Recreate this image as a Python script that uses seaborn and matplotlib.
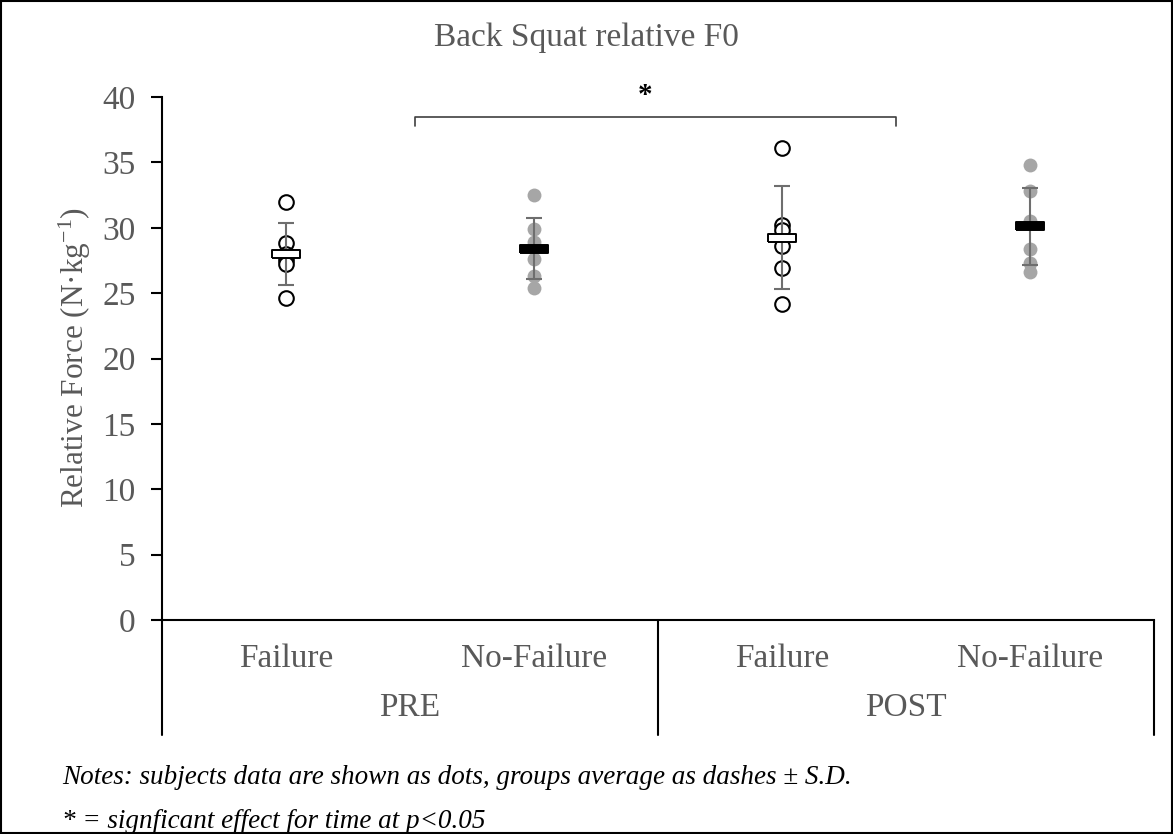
import matplotlib
matplotlib.use("Agg")
import matplotlib.pyplot as plt
import matplotlib.transforms as mtransforms
from matplotlib.patches import Rectangle
import numpy as np
import pandas as pd
import seaborn as sns

# ---- data -------------------------------------------------------------
categories = ["PRE Failure", "PRE No-Failure", "POST Failure", "POST No-Failure"]
cat_labels = ["Failure", "No-Failure", "Failure", "No-Failure"]
groups = ["PRE", "POST"]

pre_failure = [32.0, 28.8, 28.0, 27.5, 27.2, 24.6]
pre_nofailure = [32.5, 29.9, 28.9, 27.6, 26.3, 25.4]
post_failure = [36.1, 30.2, 29.8, 28.6, 26.9, 24.2]
post_nofailure = [34.8, 32.8, 30.5, 28.4, 27.3, 26.6]

group_means = [28.0, 28.4, 29.25, 30.1]
group_sd = [2.4, 2.35, 3.95, 2.95]

y_ticks = [0, 5, 10, 15, 20, 25, 30, 35, 40]

# ---- style ------------------------------------------------------------
sns.set_style("white")
plt.rcParams["font.family"] = ["Liberation Serif", "DejaVu Serif"]
plt.rcParams["mathtext.fontset"] = "custom"
plt.rcParams["mathtext.rm"] = "Liberation Serif"
plt.rcParams["mathtext.it"] = "Liberation Serif:italic"
TXT = "#595959"

fig = plt.figure(figsize=(11.73, 8.34), dpi=100)
W, H = 1173, 834
ax = fig.add_axes([162 / W, (H - 620) / H, (1154 - 162) / W, (620 - 97) / H])

df = pd.DataFrame({
    "cond": (["PRE Failure"] * len(pre_failure) + ["PRE No-Failure"] * len(pre_nofailure)
             + ["POST Failure"] * len(post_failure) + ["POST No-Failure"] * len(post_nofailure)),
    "force": pre_failure + pre_nofailure + post_failure + post_nofailure,
})
is_fail = df["cond"].str.endswith(" Failure") & ~df["cond"].str.contains("No-")

# subjects: open circles for Failure, grey dots for No-Failure
sns.stripplot(data=df[~is_fail], x="cond", y="force", order=categories, jitter=False,
              color="#a6a6a6", size=10, linewidth=0, ax=ax, zorder=2)
sns.stripplot(data=df[is_fail], x="cond", y="force", order=categories, jitter=False,
              color="white", edgecolor="black", size=10.5, linewidth=1.5, ax=ax, zorder=2)

# group mean +/- SD
xpos = np.arange(len(categories))
ax.errorbar(xpos, group_means, yerr=group_sd, fmt="none", ecolor="#6e6e6e",
            elinewidth=1.5, capsize=6, capthick=1.5, zorder=3)
dash = [(-1, -0.26), (1, -0.26), (1, 0.26), (-1, 0.26), (-1, -0.26)]
fills = ["white", "black", "white", "black"]
for x, m, fc in zip(xpos, group_means, fills):
    ax.plot([x], [m], marker=dash, markersize=20, markerfacecolor=fc,
            markeredgecolor="black", markeredgewidth=1.4, linestyle="none", zorder=4)

# axes
ax.set_xlim(-0.5, 3.5)
ax.set_ylim(0, 40)
ax.set_yticks(y_ticks)
ax.set_yticklabels([str(t) for t in y_ticks], fontsize=24, color=TXT)
ax.tick_params(axis="y", direction="out", length=8, width=1.5, color="black", pad=11, left=True)
ax.set_xticks([])
ax.set_xlabel("")
ax.set_ylabel("")
for s in ["top", "right"]:
    ax.spines[s].set_visible(False)
ax.spines["left"].set_linewidth(1.5)
ax.spines["bottom"].set_linewidth(1.5)
ax.spines["left"].set_color("black")
ax.spines["bottom"].set_color("black")

# multi-level category axis
trans = mtransforms.blended_transform_factory(ax.transData, ax.transAxes)
low = (620 - 735) / (620 - 97)
for xb in [-0.5, 1.5, 3.5]:
    ax.plot([xb, xb], [0, low], color="black", lw=1.5, transform=trans, clip_on=False)
y_cat = (620 - 659) / (620 - 97)
y_grp = (620 - 708) / (620 - 97)
for x, lab in zip(xpos, cat_labels):
    ax.text(x, y_cat, lab, transform=trans, ha="center", va="center", fontsize=24, color=TXT)
for i, g in enumerate(groups):
    ax.text(2 * i + 0.5, y_grp, g, transform=trans, ha="center", va="center", fontsize=24, color=TXT)

# significance bracket
bx0, bx1, by, bt = 0.52, 2.46, 38.5, 37.75
ax.plot([bx0, bx0, bx1, bx1], [bt, by, by, bt], color="#404040", lw=1.2, clip_on=False)
ax.text(1.45, 40.1, "*", ha="center", va="center", fontsize=21,
        fontweight="bold", color="black", clip_on=False)

# titles and notes
fig.text(0.5, 1 - 38 / H, "Back Squat relative F0", ha="center", va="center", fontsize=24, color=TXT)
fig.text(75 / W, (H - 358) / H, r"Relative Force (N·kg$^{-1}$)", rotation=90,
         ha="center", va="center", fontsize=22.5, color=TXT)
fig.text(62 / W, 1 - 778 / H, "Notes: subjects data are shown as dots, groups average as dashes ± S.D.",
         ha="left", va="center", fontsize=19.5, style="italic", color="black")
fig.text(62 / W, 1 - 821 / H, "* = signficant effect for time at p<0.05",
         ha="left", va="center", fontsize=19.5, style="italic", color="black")

# outer frame
fig.patches.append(Rectangle((0.0008, 0.0012), 0.9984, 0.9976, transform=fig.transFigure,
                             fill=False, edgecolor="black", lw=1.5))

fig.savefig("out.png", dpi=100)
